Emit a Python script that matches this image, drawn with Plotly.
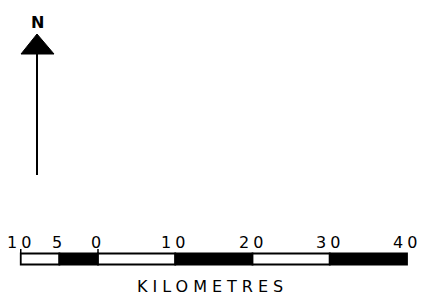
import plotly.graph_objects as go

# ---- data ----
segment_starts = [-10, -5, 0, 10, 20, 30]
segment_ends = [-5, 0, 10, 20, 30, 40]
segment_fill = ["white", "black", "white", "black", "white", "black"]
tick_values = [-10, -5, 0, 10, 20, 30, 40]
tick_labels = ["10", "5", "0", "10", "20", "30", "40"]
unit_label = "KILOMETRES"
north_label = "N"

W, H = 434, 295
# km -> pixel mapping (0 km at px 98, 40 km at px 407)
px_per_km = (407 - 98) / 40.0
x_min = -98 / px_per_km
x_max = (W - 98) / px_per_km

def px(x):
    return x / W

def py(y):
    return 1 - y / H

fig = go.Figure()

bar_y = 259
for s, e, c in zip(segment_starts, segment_ends, segment_fill):
    fig.add_trace(go.Bar(
        orientation="h", base=[s], x=[e - s], y=[bar_y], width=[11],
        marker=dict(color=c, line=dict(color="black", width=1.8)),
        showlegend=False, hoverinfo="skip",
    ))

# small upward ticks at the ends of the subdivided section
for v in [tick_values[0], 0]:
    fig.add_shape(type="line", xref="x", yref="y", x0=v, x1=v, y0=253, y1=249,
                  line=dict(color="black", width=1.5))

for v, t in zip(tick_values, tick_labels):
    fig.add_annotation(x=v, y=242, xref="x", yref="y", text=t, showarrow=False,
                       font=dict(family="DejaVu Sans", size=16, color="black"),
                       xanchor="center", yanchor="middle", xshift=0)

fig.add_annotation(x=212, y=286, xref="x2", yref="y", text=unit_label, showarrow=False,
                   font=dict(family="DejaVu Sans", size=16, color="black"),
                   xanchor="center", yanchor="middle")

# north arrow
fig.add_shape(type="path", xref="paper", yref="paper",
              path=f"M {px(37)} {py(34)} L {px(54)} {py(54)} L {px(21)} {py(54)} Z",
              fillcolor="black", line=dict(color="black", width=1))
fig.add_shape(type="line", xref="paper", yref="paper",
              x0=px(37), x1=px(37), y0=py(54), y1=py(175),
              line=dict(color="black", width=2))
fig.add_annotation(x=px(37.5), y=py(22), xref="paper", yref="paper", text=north_label,
                   showarrow=False, font=dict(family="DejaVu Sans", size=16, color="black", weight="bold"),
                   xanchor="center", yanchor="middle")

fig.update_layout(
    width=W, height=H, margin=dict(l=0, r=0, t=0, b=0),
    paper_bgcolor="white", plot_bgcolor="white", barmode="overlay",
    xaxis=dict(range=[x_min, x_max], visible=False, fixedrange=True),
    xaxis2=dict(range=[0, W], visible=False, overlaying="x", fixedrange=True),
    yaxis=dict(range=[H, 0], visible=False, fixedrange=True),
)

post = """
document.body.style.margin = '0';
document.querySelectorAll('.annotation-text').forEach(function(e){
  var t = e.textContent;
  if (t === 'KILOMETRES') { e.style.letterSpacing = '5px'; }
  else if (t !== 'N') { e.style.letterSpacing = '4px'; }
});
"""
fig.write_html("out.html", post_script=post, config={"displayModeBar": False})
